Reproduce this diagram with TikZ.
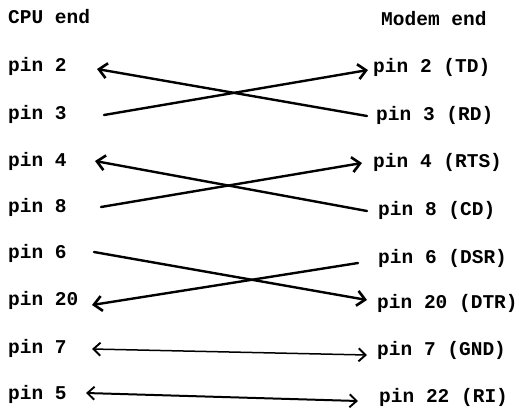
\documentclass[tikz,border=0pt]{standalone}
\usepackage{fontspec}
\setmonofont{Liberation Mono}
\usetikzlibrary{arrows.meta}
\begin{document}
\begin{tikzpicture}[x=1pt,y=-1pt,
  lbl/.style={anchor=base west,inner sep=0pt,font=\ttfamily\bfseries\fontsize{19.5}{20}\selectfont},
  wire/.style={line width=2.4pt,line cap=round},
  thinwire/.style={line width=1.5pt,line cap=round},
  hd/.tip={Straight Barb[length=8pt,width=15pt,line width=2.6pt]},
  hdt/.tip={Straight Barb[length=7pt,width=13pt,line width=1.9pt]}]
\useasboundingbox (0,0) rectangle (519,407);
% left labels
\node[lbl] (cpu) at (8,23) {CPU end};
\node[lbl] (l2) at (8,71) {pin 2};
\node[lbl] (l3) at (8,119) {pin 3};
\node[lbl] (l4) at (8,166) {pin 4};
\node[lbl] (l8) at (8,212) {pin 8};
\node[lbl] (l6) at (8,258) {pin 6};
\node[lbl] (l20) at (8,305) {pin 20};
\node[lbl] (l7) at (8,353) {pin 7};
\node[lbl] (l5) at (8,399) {pin 5};
% right labels
\node[lbl] (modem) at (381,25) {Modem end};
\node[lbl] (r2) at (373,72) {pin 2 (TD)};
\node[lbl] (r3) at (376,120) {pin 3 (RD)};
\node[lbl] (r4) at (373,167) {pin 4 (RTS)};
\node[lbl] (r8) at (378,215) {pin 8 (CD)};
\node[lbl] (r6) at (378,263) {pin 6 (DSR)};
\node[lbl] (r20) at (377,308) {pin 20 (DTR)};
\node[lbl] (r7) at (377,355) {pin 7 (GND)};
\node[lbl] (r22) at (379,402) {pin 22 (RI)};
% connector end points
\coordinate (a2) at (97,69);
\coordinate (a3) at (104,115);
\coordinate (a4) at (95,161);
\coordinate (a8) at (101,207);
\coordinate (a6) at (94,252);
\coordinate (a20) at (92,305);
\coordinate (a7) at (92,349);
\coordinate (a5) at (86,393);
\coordinate (b2) at (368,70);
\coordinate (b3) at (367,116);
\coordinate (b4) at (362,163);
\coordinate (b8) at (367,211);
\coordinate (b6) at (358,263);
\coordinate (b20) at (367,300);
\coordinate (b7) at (367,355);
\coordinate (b22) at (358,401);
% connectors
\draw[wire,-hd] (b3) -- (a2);
\draw[wire,-hd] (a3) -- (b2);
\draw[wire,-hd] (b8) -- (a4);
\draw[wire,-hd] (a8) -- (b4);
\draw[wire,-hd] (a6) -- (b20);
\draw[wire,-hd] (b6) -- (a20);
\draw[thinwire,hdt-hdt] (a7) -- (b7);
\draw[thinwire,line width=2pt,hdt-hdt] (a5) -- (b22);
\end{tikzpicture}
\end{document}
